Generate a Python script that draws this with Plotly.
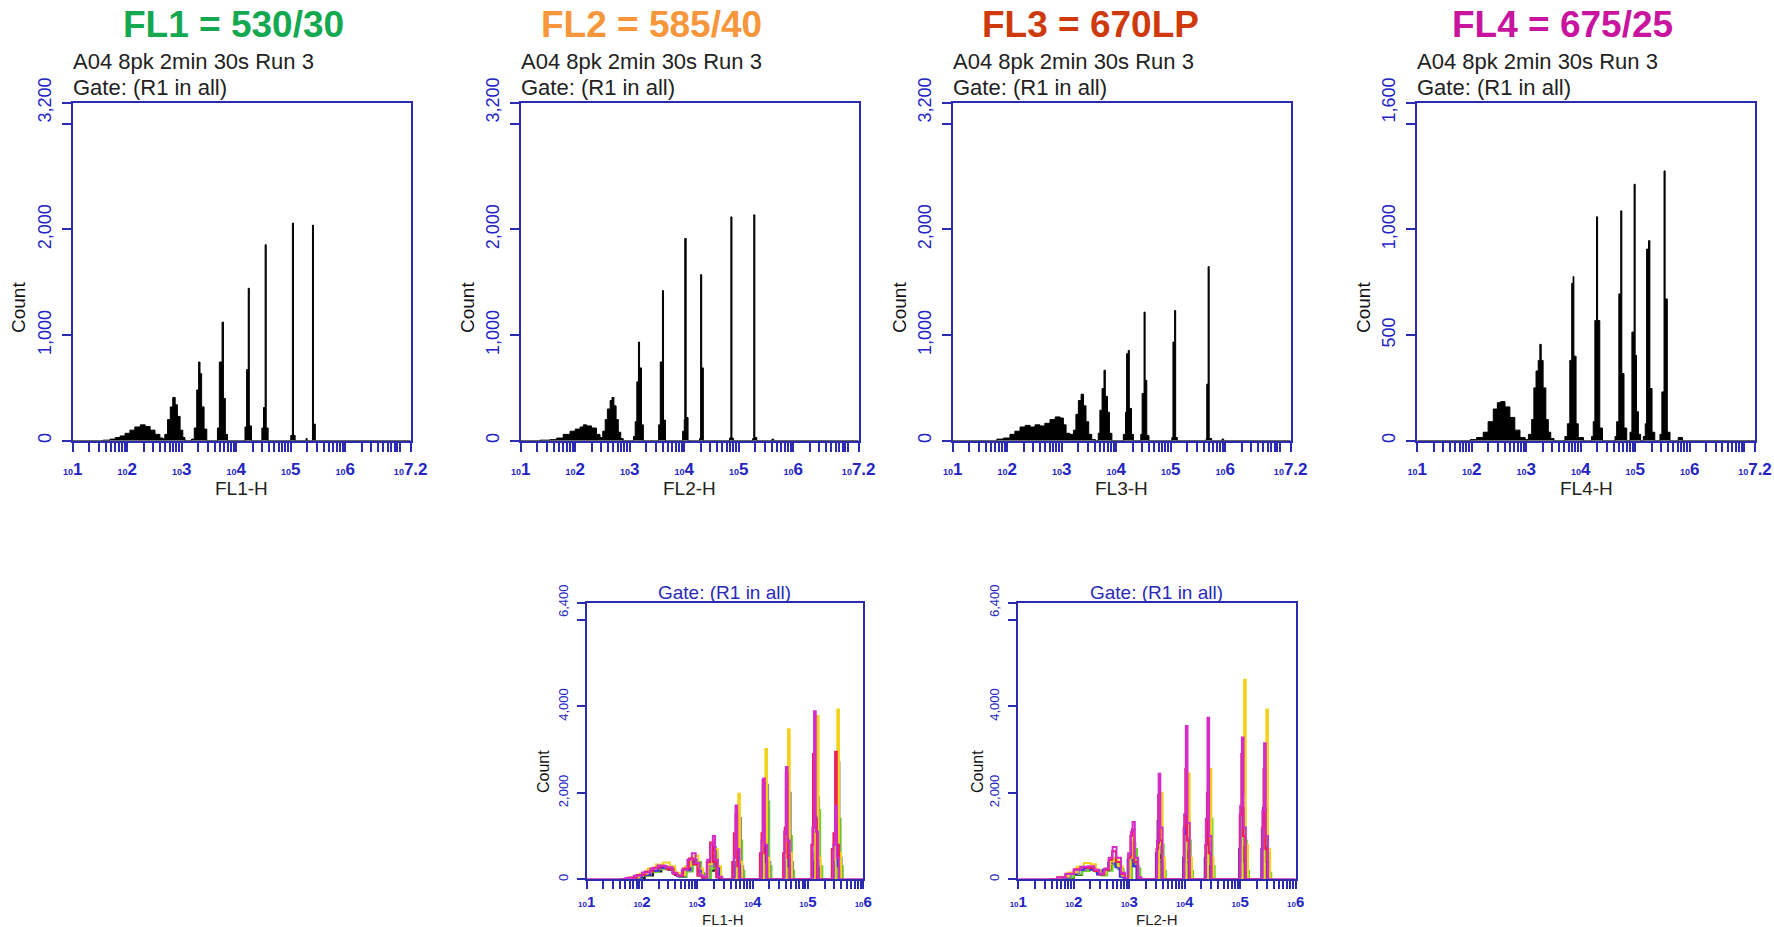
import math
import plotly.graph_objects as go

W, H = 1774, 927
AXBLUE = "#2b2bb0"
TICKBLUE = "#2424c4"

# ---------------- data (log10 channel, count) : histogram bin starts ----------------
fl1_hist = [(1.00, 0), (1.56, 5), (1.685, 15), (1.78, 30), (1.87, 45), (1.96, 70), (2.05, 100), (2.14, 130),
            (2.24, 150), (2.33, 135), (2.42, 100), (2.51, 60), (2.60, 25), (2.66, 15),
            (2.69, 60), (2.74, 200), (2.79, 320), (2.835, 409), (2.88, 340), (2.92, 230), (2.97, 100), (3.02, 30), (3.06, 0),
            (3.18, 15), (3.23, 120), (3.275, 480), (3.31, 745), (3.335, 635), (3.365, 320), (3.41, 110), (3.46, 0),
            (3.655, 120), (3.69, 745), (3.74, 1123), (3.765, 400), (3.80, 60), (3.84, 0),
            (4.16, 130), (4.19, 673), (4.22, 1443), (4.24, 140), (4.28, 0),
            (4.47, 120), (4.50, 314), (4.53, 1855), (4.55, 120), (4.585, 0),
            (5.00, 50), (5.03, 2060), (5.05, 50), (5.08, 0),
            (5.28, 20), (5.30, 0),
            (5.398, 2041), (5.416, 157), (5.45, 0), (7.2, 0)]

fl2_hist = [(1.00, 0), (1.355, 5), (1.54, 10), (1.66, 25), (1.78, 60), (1.905, 90), (2.0, 110), (2.09, 130),
            (2.15, 150), (2.21, 140), (2.30, 120), (2.39, 60), (2.455, 30),
            (2.505, 90), (2.55, 200), (2.59, 300), (2.64, 380), (2.675, 409), (2.71, 330), (2.75, 200), (2.79, 80), (2.835, 20), (2.88, 0),
            (3.07, 40), (3.10, 180), (3.13, 557), (3.16, 934), (3.18, 689), (3.215, 150), (3.25, 0),
            (3.53, 150), (3.56, 745), (3.60, 1421), (3.62, 195), (3.655, 0),
            (3.97, 90), (4.0, 200), (4.01, 1915), (4.035, 220), (4.07, 0),
            (4.28, 20), (4.30, 1572), (4.32, 689), (4.35, 0),
            (4.83, 25), (4.855, 2119), (4.875, 25), (4.90, 0),
            (5.255, 20), (5.275, 2138), (5.295, 30), (5.33, 0),
            (5.61, 15), (5.64, 0), (7.2, 0)]

fl3_hist = [(1.00, 0), (1.81, 15), (1.93, 25), (2.05, 60), (2.14, 90), (2.235, 130), (2.33, 145), (2.42, 130),
            (2.51, 150), (2.60, 140), (2.69, 165), (2.785, 200), (2.88, 225), (2.97, 215), (3.03, 150), (3.08, 70), (3.15, 60),
            (3.215, 100), (3.26, 250), (3.305, 380), (3.355, 440), (3.40, 330), (3.445, 180), (3.495, 60), (3.55, 10), (3.62, 0),
            (3.67, 70), (3.70, 289), (3.74, 494), (3.775, 667), (3.80, 420), (3.84, 270), (3.875, 70), (3.92, 0),
            (4.13, 60), (4.17, 270), (4.19, 824), (4.22, 855), (4.24, 305), (4.28, 60), (4.315, 0),
            (4.45, 60), (4.475, 447), (4.51, 1217), (4.53, 572), (4.56, 50), (4.60, 0),
            (5.02, 30), (5.04, 934), (5.07, 1233), (5.09, 30), (5.12, 0),
            (5.65, 20), (5.66, 535), (5.685, 1648), (5.705, 20), (5.75, 0),
            (5.94, 15), (5.97, 0), (7.2, 0)]

fl4_hist = [(1.00, 0), (1.97, 5), (2.09, 15), (2.21, 40), (2.30, 90), (2.395, 150), (2.47, 180), (2.53, 185),
            (2.61, 160), (2.70, 110), (2.79, 50), (2.885, 15), (2.98, 5),
            (3.04, 30), (3.10, 100), (3.14, 250), (3.18, 330), (3.22, 380), (3.25, 456), (3.275, 380), (3.31, 250),
            (3.36, 100), (3.405, 40), (3.45, 10), (3.51, 0),
            (3.71, 20), (3.755, 80), (3.80, 380), (3.835, 745), (3.86, 777), (3.875, 400), (3.915, 80), (3.955, 15), (4.05, 0),
            (4.20, 20), (4.23, 90), (4.26, 569), (4.29, 1060), (4.31, 569), (4.35, 60), (4.40, 0),
            (4.63, 20), (4.66, 90), (4.70, 695), (4.735, 1088), (4.755, 318), (4.795, 60), (4.845, 0),
            (4.905, 40), (4.94, 514), (4.98, 1214), (5.0, 404), (5.025, 137), (5.06, 30), (5.10, 0),
            (5.15, 20), (5.185, 80), (5.21, 907), (5.245, 947), (5.27, 247), (5.31, 40), (5.36, 0),
            (5.455, 30), (5.49, 231), (5.53, 1277), (5.55, 671), (5.59, 40), (5.64, 0),
            (5.79, 15), (5.87, 0), (7.2, 0)]

# ---- overlay FL1-H (bottom left), one list per run colour ----
fl1o_black = [(1.7, 0), (1.9, 30), (2.05, 90), (2.2, 180), (2.35, 250), (2.48, 220), (2.6, 100), (2.68, 60), (2.8, 200),
              (2.9, 340), (2.96, 380), (3.03, 150), (3.1, 30), (3.22, 200), (3.3, 400), (3.35, 150), (3.41, 0),
              (3.70, 300), (3.73, 800), (3.76, 200), (3.80, 0), (4.19, 600), (4.22, 1750), (4.25, 300), (4.29, 0),
              (4.60, 400), (4.63, 1200), (4.66, 300), (4.70, 0), (5.12, 600), (5.15, 1900), (5.18, 300), (5.22, 0),
              (5.49, 400), (5.52, 1000), (5.55, 200), (5.59, 0)]
fl1o_green = [(1.7, 0), (1.85, 30), (2.0, 90), (2.15, 170), (2.3, 230), (2.45, 250), (2.58, 130), (2.68, 60), (2.8, 180),
              (2.92, 330), (3.0, 400), (3.07, 120), (3.15, 30), (3.25, 250), (3.32, 600), (3.37, 200), (3.43, 0),
              (3.75, 400), (3.78, 900), (3.81, 200), (3.85, 0), (4.24, 600), (4.27, 1800), (4.30, 300), (4.34, 0),
              (4.65, 400), (4.68, 1000), (4.71, 200), (4.75, 0), (5.16, 500), (5.19, 1600), (5.22, 300), (5.26, 0),
              (5.53, 500), (5.56, 1400), (5.59, 300), (5.63, 0)]
fl1o_gray = [(1.7, 0), (1.85, 40), (2.0, 110), (2.15, 200), (2.3, 250), (2.45, 240), (2.58, 120), (2.67, 70), (2.78, 200),
             (2.9, 350), (2.97, 400), (3.04, 150), (3.12, 40), (3.22, 300), (3.3, 650), (3.35, 250), (3.41, 0),
             (3.73, 500), (3.76, 1420), (3.79, 300), (3.83, 0), (4.22, 800), (4.25, 2190), (4.28, 400), (4.32, 0),
             (4.63, 700), (4.66, 2000), (4.69, 400), (4.73, 0), (5.14, 700), (5.17, 1900), (5.20, 300), (5.24, 0),
             (5.51, 900), (5.54, 2700), (5.57, 500), (5.61, 0)]
fl1o_blue = [(1.7, 0), (1.85, 40), (2.0, 100), (2.15, 200), (2.3, 270), (2.42, 280), (2.55, 140), (2.64, 70), (2.75, 220),
             (2.87, 400), (2.94, 450), (3.01, 200), (3.09, 40), (3.2, 350), (3.28, 750), (3.33, 300), (3.39, 0),
             (3.68, 400), (3.71, 1100), (3.74, 300), (3.78, 0), (4.17, 500), (4.20, 1500), (4.23, 400), (4.27, 0),
             (4.58, 500), (4.61, 1400), (4.64, 300), (4.68, 0), (5.09, 400), (5.12, 1300), (5.15, 300), (5.19, 0),
             (5.47, 400), (5.50, 1200), (5.53, 300), (5.57, 0)]
fl1o_yellow = [(1.6, 0), (1.8, 50), (1.95, 130), (2.1, 250), (2.25, 340), (2.38, 390), (2.5, 300), (2.6, 150), (2.68, 100),
               (2.78, 300), (2.88, 500), (2.95, 550), (3.02, 250), (3.1, 50), (3.2, 350), (3.27, 600), (3.32, 700), (3.37, 300),
               (3.43, 0), (3.71, 700), (3.74, 1977), (3.77, 400), (3.81, 0), (4.20, 900), (4.23, 3013), (4.26, 500), (4.30, 0),
               (4.61, 1000), (4.64, 3473), (4.67, 600), (4.71, 0), (5.13, 1500), (5.16, 3780), (5.19, 500), (5.23, 0),
               (5.50, 1500), (5.53, 3930), (5.56, 600), (5.60, 0)]
fl1o_red = [(1.6, 0), (1.75, 40), (1.9, 100), (2.05, 180), (2.2, 270), (2.32, 300), (2.45, 230), (2.57, 120), (2.64, 80),
            (2.74, 250), (2.85, 480), (2.93, 350), (3.0, 80), (3.08, 40), (3.17, 400), (3.23, 850), (3.28, 400), (3.34, 40),
            (3.42, 0), (3.63, 400), (3.66, 1065), (3.69, 1500), (3.72, 300), (3.76, 0),
            (4.13, 600), (4.16, 1065), (4.18, 2300), (4.21, 600), (4.25, 0),
            (4.55, 600), (4.58, 1200), (4.60, 2450), (4.63, 500), (4.67, 0),
            (5.06, 800), (5.09, 2900), (5.12, 1400), (5.16, 0),
            (5.43, 700), (5.46, 1065), (5.49, 2950), (5.52, 800), (5.56, 0)]
fl1o_magenta = [(1.0, 0), (1.55, 0), (1.7, 30), (1.85, 80), (2.0, 160), (2.15, 250), (2.28, 320), (2.42, 280), (2.55, 150),
                (2.63, 90), (2.72, 220), (2.82, 450), (2.9, 600), (2.97, 380), (3.04, 90), (3.1, 60), (3.18, 450),
                (3.24, 800), (3.28, 1000), (3.32, 450), (3.37, 60), (3.45, 0),
                (3.66, 500), (3.69, 1710), (3.72, 700), (3.76, 0), (4.16, 900), (4.19, 2330), (4.22, 800), (4.26, 0),
                (4.57, 1100), (4.60, 2600), (4.63, 900), (4.67, 0), (5.08, 1200), (5.11, 3890), (5.14, 1100), (5.18, 0),
                (5.46, 800), (5.49, 1700), (5.52, 500), (5.56, 0), (6.0, 0)]

# ---- overlay FL2-H (bottom right) ----
fl2o_black = [(1.7, 0), (1.85, 30), (2.0, 100), (2.15, 200), (2.28, 240), (2.4, 180), (2.5, 100), (2.6, 220), (2.68, 360),
              (2.74, 400), (2.81, 240), (2.89, 50), (2.96, 20), (3.02, 400), (3.06, 800), (3.1, 300), (3.16, 0),
              (3.52, 500), (3.55, 1200), (3.58, 300), (3.62, 0), (4.01, 500), (4.04, 1100), (4.07, 300), (4.11, 0),
              (4.40, 400), (4.43, 1000), (4.46, 250), (4.50, 0), (5.02, 400), (5.05, 1000), (5.08, 250), (5.12, 0),
              (5.42, 400), (5.45, 900), (5.48, 200), (5.52, 0)]
fl2o_green = [(1.7, 0), (1.85, 40), (2.0, 110), (2.15, 190), (2.28, 220), (2.4, 170), (2.5, 90), (2.6, 200), (2.7, 330),
              (2.76, 380), (2.83, 220), (2.9, 50), (2.98, 20), (3.05, 400), (3.1, 700), (3.14, 250), (3.2, 0),
              (3.56, 400), (3.59, 800), (3.62, 200), (3.66, 0), (4.05, 400), (4.08, 900), (4.11, 200), (4.15, 0),
              (4.44, 600), (4.47, 1400), (4.50, 300), (4.54, 0), (5.06, 400), (5.09, 900), (5.12, 200), (5.16, 0),
              (5.46, 300), (5.49, 600), (5.52, 150), (5.56, 0)]
fl2o_gray = [(1.65, 0), (1.8, 40), (1.95, 120), (2.1, 210), (2.22, 250), (2.35, 200), (2.45, 110), (2.55, 200), (2.65, 350),
             (2.72, 400), (2.79, 250), (2.88, 60), (2.96, 30), (3.02, 450), (3.07, 850), (3.11, 300), (3.17, 0),
             (3.53, 600), (3.56, 1300), (3.59, 400), (3.63, 0), (4.02, 700), (4.05, 1500), (4.08, 400), (4.12, 0),
             (4.41, 600), (4.44, 1350), (4.47, 300), (4.51, 0), (5.03, 800), (5.06, 1650), (5.09, 400), (5.13, 0),
             (5.43, 800), (5.46, 1650), (5.49, 400), (5.53, 0)]
fl2o_blue = [(1.6, 0), (1.75, 40), (1.9, 120), (2.05, 220), (2.18, 260), (2.3, 220), (2.42, 110), (2.52, 220), (2.62, 380),
             (2.68, 450), (2.75, 280), (2.83, 60), (2.9, 30), (2.97, 450), (3.03, 850), (3.07, 300), (3.13, 0),
             (3.48, 600), (3.51, 1350), (3.54, 400), (3.58, 0), (3.97, 500), (4.00, 1500), (4.03, 400), (4.07, 0),
             (4.36, 500), (4.39, 1300), (4.42, 300), (4.46, 0), (4.98, 700), (5.01, 1650), (5.04, 400), (5.08, 0),
             (5.38, 700), (5.41, 1650), (5.44, 400), (5.48, 0)]
fl2o_yellow = [(1.6, 0), (1.75, 60), (1.9, 160), (2.05, 290), (2.18, 380), (2.3, 350), (2.4, 220), (2.48, 130), (2.58, 250),
               (2.66, 420), (2.73, 500), (2.8, 300), (2.88, 80), (2.95, 30), (3.02, 500), (3.07, 950), (3.1, 400), (3.16, 0),
               (3.54, 800), (3.57, 2000), (3.60, 500), (3.64, 0), (4.03, 1000), (4.06, 2450), (4.09, 500), (4.13, 0),
               (4.42, 900), (4.45, 2550), (4.48, 500), (4.52, 0), (5.04, 2000), (5.07, 4620), (5.10, 800), (5.14, 0),
               (5.44, 1900), (5.47, 3930), (5.50, 700), (5.54, 0)]
fl2o_red = [(1.55, 0), (1.7, 50), (1.85, 130), (2.0, 230), (2.12, 280), (2.25, 260), (2.37, 190), (2.46, 110), (2.55, 220),
            (2.63, 450), (2.69, 650), (2.76, 400), (2.85, 120), (2.92, 30), (2.98, 500), (3.02, 1000), (3.05, 1150),
            (3.09, 400), (3.15, 0), (3.49, 700), (3.52, 1950), (3.55, 900), (3.59, 0),
            (3.98, 1200), (4.01, 2550), (4.04, 900), (4.08, 0), (4.37, 800), (4.40, 2000), (4.43, 600), (4.47, 0),
            (4.99, 1500), (5.02, 2900), (5.05, 1000), (5.09, 0), (5.39, 1200), (5.42, 2550), (5.45, 700), (5.49, 0)]
fl2o_magenta = [(1.0, 0), (1.55, 0), (1.7, 40), (1.85, 120), (2.0, 220), (2.12, 290), (2.25, 300), (2.37, 220), (2.46, 130),
                (2.55, 250), (2.63, 500), (2.7, 750), (2.77, 500), (2.85, 150), (2.92, 30), (2.98, 600), (3.03, 1100),
                (3.06, 1325), (3.1, 500), (3.16, 50), (3.22, 0),
                (3.50, 900), (3.53, 2440), (3.56, 1200), (3.60, 0), (3.99, 1500), (4.02, 3549), (4.05, 1300), (4.09, 0),
                (4.38, 1400), (4.41, 3740), (4.44, 1000), (4.48, 0), (5.00, 1700), (5.03, 3280), (5.06, 1200), (5.10, 0),
                (5.40, 1600), (5.43, 3150), (5.46, 1000), (5.50, 0), (6.0, 0)]

titles = ["FL1 = 530/30", "FL2 = 585/40", "FL3 = 670LP", "FL4 = 675/25"]
title_colors = ["#14a850", "#f7963b", "#cf3a0c", "#c8149e"]
run_label = "A04 8pk 2min 30s Run 3"
gate_label = "Gate: (R1 in all)"
top_xlabels = ["FL1-H", "FL2-H", "FL3-H", "FL4-H"]
bottom_xlabels = ["FL1-H", "FL2-H"]
top_ymax = [3200, 3200, 3200, 1600]
top_yticks = [[0, 1000, 2000, 3000, 3200]] * 3 + [[0, 500, 1000, 1500, 1600]]
top_yticktext = [["0", "1,000", "2,000", "", "3,200"]] * 3 + [["0", "500", "1,000", "", "1,600"]]
bottom_yticks = [0, 2000, 4000, 6000, 6400]
bottom_yticktext = ["0", "2,000", "4,000", "", "6,400"]

run_colors = {"black": "#1e1e1e", "green": "#5fdc1e", "gray": "#8c8c8c", "blue": "#3a2ee6",
              "yellow": "#f3d21c", "red": "#ee1f55", "magenta": "#d42cc8"}

# ---------------- layout geometry (pixels) ----------------
top_px = [(72.7, 410.7), (520.7, 858.7), (952.7, 1290.7), (1417.3, 1755.0)]
top_py = (102.7, 440.7)
bot_px = [(586.7, 863.3), (1018.3, 1295.7)]
bot_py = (602.7, 879.3)


def fx(p):
    return p / W


def fy(p):
    return 1 - p / H


def log_ticks(xmax, extra_end, small):
    vals, text = [], []
    for k in range(1, 8):
        for n in range(1, 10):
            v = n * 10 ** k
            if math.log10(v) <= xmax + 1e-9:
                vals.append(v)
                show = n == 1 and (not extra_end or k < 7)
                text.append(f"<b><span style='font-size:{small}px'>10</span>{k}</b>" if show else "")
    if extra_end:
        vals.append(10 ** xmax)
        text.append(f"<b><span style='font-size:{small}px'>10</span>{xmax:g}</b>")
    return vals, text


fig = go.Figure()
layout = dict(width=W, height=H, margin=dict(l=0, r=0, t=0, b=0, pad=0, autoexpand=False), showlegend=False,
              template="none",
              paper_bgcolor="white", plot_bgcolor="white", font=dict(family="Liberation Sans, Arial, sans-serif"))
annotations = []


def axis_pair(i, px, py, xmax, extra_end, yvals, ytext, ymax, xfs, yfs, ticklen, small, xstand, ystand):
    xv, xt = log_ticks(xmax, extra_end, small)
    xk = "xaxis" if i == 1 else f"xaxis{i}"
    yk = "yaxis" if i == 1 else f"yaxis{i}"
    layout[xk] = dict(domain=[fx(px[0]), fx(px[1])], anchor=f"y{'' if i == 1 else i}", type="log",
                      range=[1, xmax], tickmode="array", tickvals=xv, ticktext=xt, ticks="outside",
                      ticklen=ticklen, tickwidth=2, tickcolor=AXBLUE, showline=True, linecolor=AXBLUE,
                      linewidth=2, mirror=True, showgrid=False, zeroline=False, automargin=False,
                      tickfont=dict(size=xfs, color=TICKBLUE), tickangle=0, ticklabelstandoff=xstand)
    layout[yk] = dict(domain=[fy(py[1]), fy(py[0])], anchor=f"x{'' if i == 1 else i}", range=[0, ymax],
                      tickmode="array", tickvals=yvals, ticktext=ytext, ticks="outside", ticklen=ticklen,
                      tickwidth=2, tickcolor=AXBLUE, showline=True, linecolor=AXBLUE, linewidth=2,
                      mirror=True, showgrid=False, zeroline=False, tickangle=-90, automargin=False,
                      tickfont=dict(size=yfs, color=TICKBLUE), ticklabelstandoff=ystand)


def add_hist(pairs, i, color, fill, width):
    xs = [10 ** e for e, _ in pairs]
    ys = [c for _, c in pairs]
    sfx = "" if i == 1 else str(i)
    fig.add_trace(go.Scatter(x=xs, y=ys, mode="lines", line=dict(color=color, width=width, shape="hv"),
                             fill="tozeroy" if fill else None, fillcolor=color if fill else None,
                             xaxis="x" + sfx, yaxis="y" + sfx, hoverinfo="skip"))


top_data = [fl1_hist, fl2_hist, fl3_hist, fl4_hist]
title_x = [234, 651, 1090, 1562]
count_x = [18, 467, 899, 1363]
xlab_x = [241.7, 689.7, 1121.7, 1586]

for j in range(4):
    i = j + 1
    axis_pair(i, top_px[j], top_py, 7.2, True, top_yticks[j], top_yticktext[j], top_ymax[j], 17, 18, 9, 9, 3, 4)
    add_hist(top_data[j], i, "black", True, 1)
    annotations.append(dict(text=f"<b>{titles[j]}</b>", x=fx(title_x[j]), y=fy(24), xref="paper", yref="paper",
                            xanchor="center", yanchor="middle", showarrow=False,
                            font=dict(size=37, color=title_colors[j], family="Liberation Sans, Arial")))
    annotations.append(dict(text=run_label, x=fx(top_px[j][0] - 2), y=fy(62), xref="paper", yref="paper",
                            xanchor="left", yanchor="middle", showarrow=False,
                            font=dict(size=22, color="#222222")))
    annotations.append(dict(text=gate_label, x=fx(top_px[j][0] - 2), y=fy(87), xref="paper", yref="paper",
                            xanchor="left", yanchor="middle", showarrow=False,
                            font=dict(size=22, color="#222222")))
    annotations.append(dict(text=top_xlabels[j], x=fx(xlab_x[j]), y=fy(489), xref="paper", yref="paper",
                            xanchor="center", yanchor="middle", showarrow=False,
                            font=dict(size=19, color="#222222")))
    annotations.append(dict(text="Count", x=fx(count_x[j]), y=fy(308), xref="paper", yref="paper",
                            xanchor="center", yanchor="middle", showarrow=False, textangle=-90,
                            font=dict(size=19, color="#111111")))

overlays = [
    [fl1o_black, fl1o_green, fl1o_gray, fl1o_blue, fl1o_yellow, fl1o_red, fl1o_magenta],
    [fl2o_black, fl2o_green, fl2o_gray, fl2o_blue, fl2o_yellow, fl2o_red, fl2o_magenta],
]
overlay_colors = ["black", "green", "gray", "blue", "yellow", "red", "magenta"]
gate_x = [724, 1156]
bcount_x = [543, 977]
bxlab_x = [723, 1157]

for j in range(2):
    i = 5 + j
    axis_pair(i, bot_px[j], bot_py, 6, False, bottom_yticks, bottom_yticktext, 6400, 15, 13, 8, 8, 0, 4)
    for series, cname in zip(overlays[j], overlay_colors):
        add_hist(series, i, run_colors[cname], False, 2)
    annotations.append(dict(text=gate_label, x=fx(gate_x[j]), y=fy(592), xref="paper", yref="paper",
                            xanchor="center", yanchor="middle", showarrow=False,
                            font=dict(size=19, color="#2a2ab8")))
    annotations.append(dict(text="Count", x=fx(bcount_x[j]), y=fy(772), xref="paper", yref="paper",
                            xanchor="center", yanchor="middle", showarrow=False, textangle=-90,
                            font=dict(size=16, color="#111111")))
    annotations.append(dict(text=bottom_xlabels[j], x=fx(bxlab_x[j]), y=fy(919), xref="paper", yref="paper",
                            xanchor="center", yanchor="middle", showarrow=False,
                            font=dict(size=15, color="#222222")))

layout["annotations"] = annotations
fig.update_layout(**layout)
fig.write_html("out.html")
